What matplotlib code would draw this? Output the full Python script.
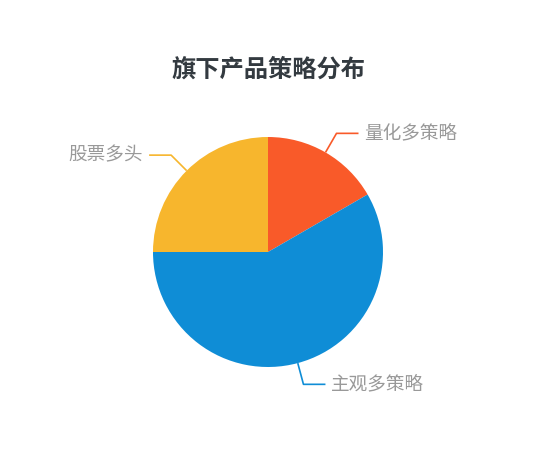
import matplotlib.pyplot as plt
import numpy as np

plt.rcParams['font.family'] = ['Noto Sans CJK SC', 'DejaVu Sans']

labels = ['量化多策略', '主观多策略', '股票多头']
values = [2, 7, 3]
colors = ['#f95a29', '#0f8dd6', '#f7b62d']
title = '旗下产品策略分布'

W, H = 535, 463
fig = plt.figure(figsize=(W / 100, H / 100), dpi=100)
ax = fig.add_axes([0, 0, 1, 1])

cx, cy, r = 268, H - 252, 115
wedges, _ = ax.pie(values, colors=colors, startangle=90, counterclock=False,
                   center=(cx, cy), radius=r, frame=True,
                   wedgeprops=dict(linewidth=0))
ax.set_xlim(0, W)
ax.set_ylim(0, H)
ax.axis('off')

for w, lab, c in zip(wedges, labels, colors):
    mid = np.deg2rad((w.theta1 + w.theta2) / 2)
    x0, y0 = cx + r * np.cos(mid), cy + r * np.sin(mid)
    x1, y1 = cx + (r + 22) * np.cos(mid), cy + (r + 22) * np.sin(mid)
    side = 1 if np.cos(mid) >= 0 else -1
    x2 = x1 + side * 22
    ax.plot([x0, x1, x2], [y0, y1, y1], color=c, lw=1.2, solid_capstyle='butt')
    ax.text(x2 + side * 6, y1, lab, color='#999999', fontsize=13.4,
            ha='left' if side > 0 else 'right', va='center')

ax.text(cx, H - 70, title, color='#333a40', fontsize=17.5, fontweight='bold',
        ha='center', va='center')

fig.savefig('out.png', dpi=100)
